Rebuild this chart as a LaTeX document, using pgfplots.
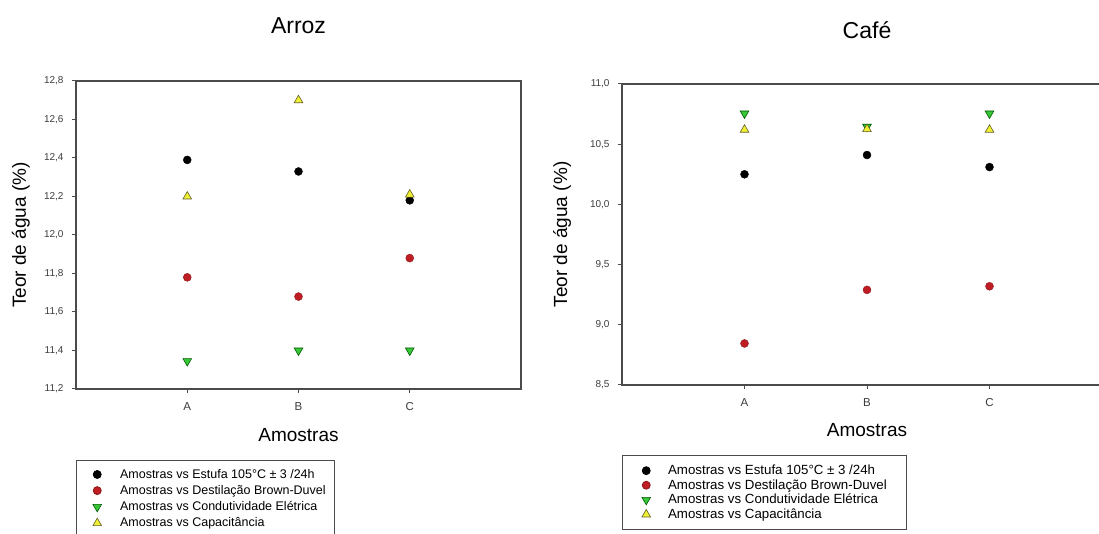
\documentclass[border=0pt]{standalone}
\usepackage{fontspec}
\setmainfont{Liberation Sans}
\usepackage{pgfplots}
\pgfplotsset{compat=1.18}
\definecolor{mred}{RGB}{190,30,35}
\definecolor{mgreen}{RGB}{55,200,55}
\definecolor{myellow}{RGB}{240,240,50}
\definecolor{axgray}{RGB}{75,75,75}
\definecolor{tkgray}{RGB}{60,60,60}
\pgfplotsset{
  myaxis/.style={
    scale only axis,
    anchor=south west,
    xmin=0, xmax=4,
    xtick={1,2,3}, xticklabels={A,B,C},
    tick align=outside, tick pos=left,
    major tick length=4pt,
    axis line style={axgray, line width=1.3pt},
    every tick/.style={axgray, line width=1pt},
    yticklabel style={font=\fontsize{10}{12}\selectfont, text=tkgray, xshift=-5pt},
    xticklabel style={font=\fontsize{11.5}{13}\selectfont, text=tkgray, yshift=-6pt},
    /pgf/number format/.cd, use comma, fixed, fixed zerofill, precision=1, assume math mode=true,
    /pgfplots/.cd,
    xlabel style={font=\fontsize{19}{22}\selectfont, anchor=center},
    ylabel style={font=\fontsize{19}{22}\selectfont, anchor=center},
    title style={font=\fontsize{23}{26}\selectfont, anchor=center},
    legend cell align=left,
    xlabel={Amostras},
    ylabel={Teor de água (\%)},
  },
  pblack/.style={only marks, mark=*, mark size=4pt, mark options={draw=black, fill=black}},
  pred/.style={only marks, mark=*, mark size=4pt, mark options={draw=mred!75!black, fill=mred}},
  pgreen/.style={only marks, mark=triangle*, mark size=5pt, mark options={rotate=180, draw=green!35!black, fill=mgreen, line width=0.6pt}},
  pyellow/.style={only marks, mark=triangle*, mark size=5pt, mark options={draw=olive!60!black, fill=myellow, line width=0.6pt}},
}
\begin{document}
\begin{tikzpicture}
\path[use as bounding box] (0pt,0pt) rectangle (1099pt,534pt);
\clip (0pt,0pt) rectangle (1099pt,534pt);
\begin{axis}[myaxis,
  at={(76pt,145pt)}, width=445pt, height=308pt,
  ymin=11.2, ymax=12.8,
  ytick={11.2,11.4,11.6,11.8,12.0,12.2,12.4,12.6,12.8},
  title={Arroz}, title style={at={(rel axis cs:0.5,1.159)}},
  ylabel style={at={(rel axis cs:-0.124,0.5)}},
  xlabel style={at={(rel axis cs:0.5,-0.149)}},
  legend style={at={(rel axis cs:0,-0.2305)}, anchor=north west,
    draw=axgray, line width=0.8pt, inner xsep=16.5pt, inner ysep=6pt,
    column sep=16.5pt, font=\fontsize{12.5}{13}\selectfont,
    nodes={inner xsep=2pt, inner ysep=2.8pt}},
]
\addplot[pblack] coordinates {(1,12.39) (2,12.33) (3,12.18)};
\addplot[pred] coordinates {(1,11.78) (2,11.68) (3,11.88)};
\addplot[pgreen] coordinates {(1,11.345) (2,11.40) (3,11.40)};
\addplot[pyellow] coordinates {(1,12.20) (2,12.70) (3,12.21)};
\legend{\makebox[196pt][l]{Amostras vs Estufa 105°C ± 3 /24h},
        \makebox[196pt][l]{Amostras vs Destilação Brown-Duvel},
        \makebox[196pt][l]{Amostras vs Condutividade Elétrica},
        \makebox[196pt][l]{Amostras vs Capacitância}}
\end{axis}
\begin{axis}[myaxis,
  at={(622pt,149pt)}, width=490pt, height=301pt,
  ymin=8.5, ymax=11,
  ytick={8.5,9.0,9.5,10.0,10.5,11.0},
  title={Café}, title style={at={(rel axis cs:0.5,1.159)}},
  ylabel style={at={(rel axis cs:-0.1224,0.5)}},
  xlabel style={at={(rel axis cs:0.5,-0.1495)}},
  legend style={at={(rel axis cs:0,-0.2326)}, anchor=north west,
    draw=axgray, line width=0.8pt, inner xsep=19.5pt, inner ysep=8pt,
    column sep=15.5pt, font=\fontsize{13.3}{14}\selectfont,
    nodes={inner xsep=2pt, inner ysep=1.7pt}},
]
\addplot[pblack] coordinates {(1,10.25) (2,10.41) (3,10.31)};
\addplot[pred] coordinates {(1,8.845) (2,9.29) (3,9.32)};
\addplot[pgreen] coordinates {(1,10.755) (2,10.645) (3,10.755)};
\addplot[pyellow] coordinates {(1,10.62) (2,10.625) (3,10.62)};
\legend{\makebox[217pt][l]{Amostras vs Estufa 105°C ± 3 /24h},
        \makebox[217pt][l]{Amostras vs Destilação Brown-Duvel},
        \makebox[217pt][l]{Amostras vs Condutividade Elétrica},
        \makebox[217pt][l]{Amostras vs Capacitância}}
\end{axis}
\end{tikzpicture}
\end{document}
